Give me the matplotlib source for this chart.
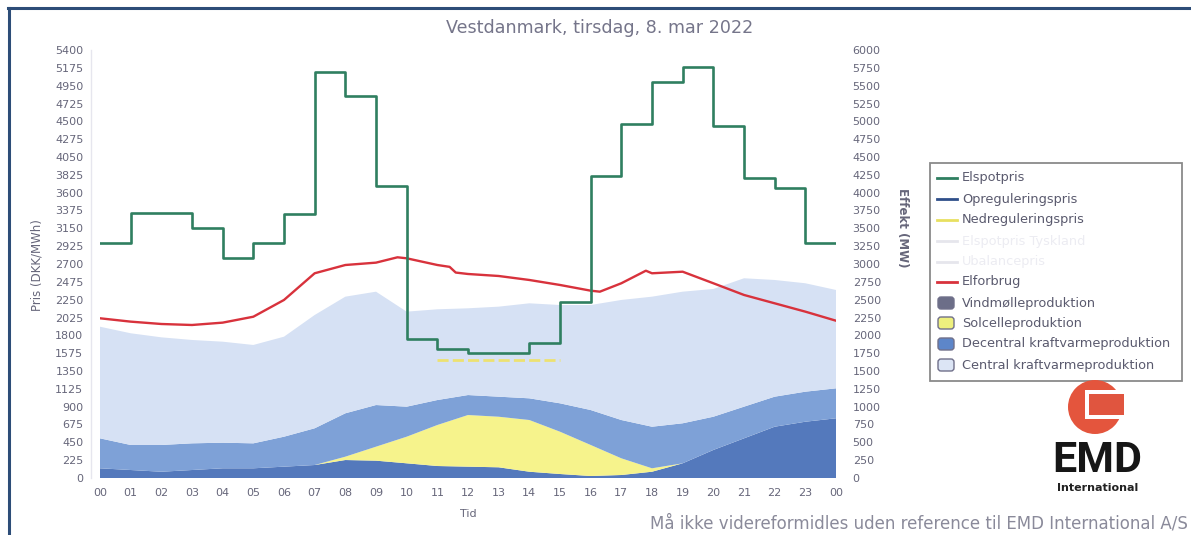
import numpy as np
import matplotlib
matplotlib.use("Agg")
import matplotlib.pyplot as plt
from matplotlib.patches import Circle, Rectangle, FancyBboxPatch
from matplotlib.lines import Line2D
from matplotlib.transforms import IdentityTransform

W, H = 1191, 535

# ---------------- data ----------------
hours = list(range(25))
hour_labels = ["%02d" % h for h in range(24)] + ["00"]

# Elspotpris (DKK/MWh), one value per hour 00..23
spot_price = [2969, 3340, 3340, 3150, 2772, 2969, 3327, 5126, 4824, 3684,
              1760, 1628, 1581, 1581, 1700, 2217, 3810, 4466, 4996, 5186,
              4441, 3785, 3659, 2965]
# Nedreguleringspris (DKK/MWh), only visible 11-15
nan = float("nan")
down_price = [nan] * 11 + [1490, 1490, 1490, 1490] + [nan] * 9

# Elforbrug (MW)
load_x = [0, 1, 2, 3, 4, 5, 6, 7, 8, 9, 9.7, 10, 11, 11.4, 11.6, 12, 13, 14,
          15, 16, 16.3, 17, 17.8, 18, 19, 20, 21, 22, 23, 24]
load_mw = [2239, 2192, 2159, 2145, 2178, 2261, 2496, 2870, 2986, 3019, 3094,
           3080, 2986, 2960, 2880, 2860, 2832, 2776, 2706, 2626, 2612, 2730,
           2906, 2870, 2892, 2730, 2566, 2449, 2332, 2205]

# Stacked production (MW), hourly 00..24
wind_mw = [136, 112, 88, 112, 136, 136, 159, 182, 252, 243, 206, 168, 159,
           150, 88, 56, 28, 42, 88, 206, 393, 556, 719, 789, 837]
solar_mw = [0, 0, 0, 0, 0, 0, 0, 0, 47, 196, 373, 575, 724, 709, 725, 593,
            435, 234, 48, 0, 0, 0, 0, 0, 0]
decentral_mw = [420, 351, 375, 374, 359, 350, 420, 515, 608, 584, 421, 350,
                280, 281, 304, 398, 490, 537, 583, 561, 466, 444, 421, 421, 420]
central_mw = [1565, 1566, 1509, 1449, 1416, 1379, 1402, 1588, 1635, 1589,
              1332, 1272, 1216, 1262, 1332, 1378, 1472, 1683, 1823, 1845,
              1791, 1800, 1636, 1520, 1379]

legend_labels = ["Elspotpris", "Opreguleringspris", "Nedreguleringspris",
                 "Elspotpris Tyskland", "Ubalancepris", "Elforbrug",
                 "Vindmølleproduktion", "Solcelleproduktion",
                 "Decentral kraftvarmeproduktion", "Central kraftvarmeproduktion"]

# ---------------- style ----------------
txt_col = "#66667a"
green = "#2f7f60"
red = "#d8323c"
c_wind = "#5479bc"
c_solar = "#f6f38c"
c_dec = "#7ea1d7"
c_cen = "#d6e1f4"

fig = plt.figure(figsize=(W / 100, H / 100), dpi=100)
fig.patch.set_facecolor("white")

def fx(x):
    return x / W

def fy(y):
    return 1 - y / H

ax = fig.add_axes([fx(100), fy(478), 736 / W, 428 / H])
ax2 = ax.twinx()

# production areas + load on right axis
ax2.stackplot(hours, wind_mw, solar_mw, decentral_mw, central_mw,
              colors=[c_wind, c_solar, c_dec, c_cen], linewidth=0)
ax2.plot(load_x, load_mw, color=red, lw=1.7)
ax2.set_ylim(0, 6000)
ax2.set_yticks(range(0, 6001, 250))

# prices on left axis (drawn above)
ax.set_zorder(ax2.get_zorder() + 1)
ax.patch.set_visible(False)
ax.step(hours, spot_price + [spot_price[-1]], where="post", color=green, lw=1.9)
ax.step(hours, down_price + [down_price[-1]], where="post", color="#f1e25a",
        lw=2.0, ls=(0, (4, 1.5)), alpha=0.85)
ax.set_xlim(0, 24)
ax.set_ylim(0, 5400)
ax.set_yticks(range(0, 5401, 225))
ax.set_xticks(hours)
ax.set_xticklabels(hour_labels)
ax.set_xlabel("Tid", color=txt_col, fontsize=8, labelpad=8)

for a in (ax, ax2):
    for s in a.spines.values():
        s.set_visible(False)
ax.tick_params(axis="y", length=0, pad=12, labelsize=8, labelcolor=txt_col)
ax.tick_params(axis="x", length=0, pad=7, labelsize=8, labelcolor=txt_col)
ax2.tick_params(axis="y", length=0, pad=12, labelsize=8, labelcolor=txt_col)
for lab in ax2.get_yticklabels():
    lab.set_horizontalalignment("left")

# axis titles
fig.text(fx(37), fy(265), "Pris (DKK/MWh)", rotation=90, ha="center",
         va="center", fontsize=8.5, color=txt_col)
fig.text(fx(903), fy(228), "Effekt (MW)", rotation=-90, ha="center",
         va="center", fontsize=8.5, color=txt_col, fontweight="bold")

# title
fig.text(fx(600), fy(28), "Vestdanmark, tirsdag, 8. mar 2022", ha="center",
         va="center", fontsize=12.6, color="#75758a")

# faint left axis line
fig.add_artist(Line2D([fx(91), fx(91)], [fy(50), fy(478)], color="#e6e6ee",
                      lw=1, transform=fig.transFigure))

# frame lines (top, left)
fig.add_artist(Line2D([fx(8), fx(1191)], [fy(8), fy(8)], color="#2d4d78",
                      lw=2.2, transform=fig.transFigure))
fig.add_artist(Line2D([fx(9), fx(9)], [fy(8), fy(535)], color="#2d4d78",
                      lw=2.2, transform=fig.transFigure))

# ---------------- legend ----------------
idt = IdentityTransform()
def P(x, y):
    return (x, H - y)

box = Rectangle(P(930, 381), 252, 218, transform=idt, facecolor="white",
                edgecolor="#8a8a8a", lw=1.3)
fig.add_artist(box)
ys = [178, 199, 220, 241, 262, 282, 303, 323, 344, 365]
line_cols = [green, "#2f4f8a", "#e8e060", "#e6e6ec", "#e6e6ec", red]
patch_cols = ["#6c6e88", "#eef07e", "#5d86c9", "#dce5f5"]
for i, (lab, y) in enumerate(zip(legend_labels, ys)):
    faded = i in (3, 4)
    if i < 6:
        fig.add_artist(Line2D([937, 957], [H - y, H - y], color=line_cols[i],
                              lw=2, transform=idt))
    else:
        fc = patch_cols[i - 6]
        p = FancyBboxPatch(P(938, y + 6), 16, 12,
                           boxstyle="round,pad=0,rounding_size=3",
                           transform=idt, facecolor=fc,
                           edgecolor="#70708a", lw=1.0)
        fig.add_artist(p)
    fig.text(fx(962), fy(y), lab, ha="left", va="center", fontsize=9.3,
             color="#ececf2" if faded else "#5a5a6e")

# ---------------- logo ----------------
fig.add_artist(Circle(P(1095, 407), 27, transform=idt, facecolor="#e4553d",
                      edgecolor="none"))
fig.add_artist(Rectangle(P(1085, 419), 42, 29, transform=idt,
                         facecolor="white", edgecolor="none"))
fig.add_artist(Rectangle(P(1089, 415), 35, 21, transform=idt,
                         facecolor="#e0553f", edgecolor="none"))
fig.text(fx(1097), fy(461), "EMD", ha="center", va="center", fontsize=31,
         fontweight="bold", family="Roboto", color="#161616")
fig.text(fx(1098), fy(488), "International", ha="center", va="center",
         fontsize=8, fontweight="bold", color="#222222")

# footer
fig.text(fx(1188), fy(523), "Må ikke videreformidles uden reference til EMD International A/S",
         ha="right", va="center", fontsize=12, color="#8a8a9a")

fig.savefig("out.png", dpi=100, facecolor="white")
